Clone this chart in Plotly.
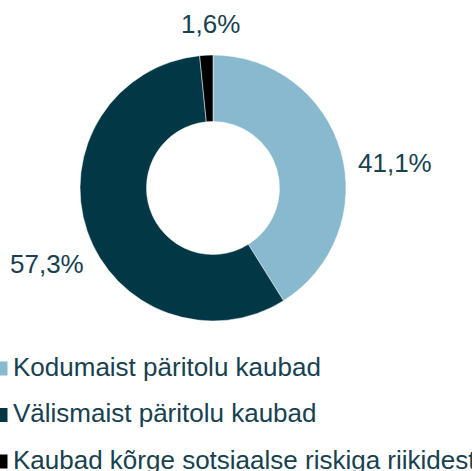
import plotly.graph_objects as go

W, H = 472, 471

labels = ["Kodumaist päritolu kaubad", "Välismaist päritolu kaubad", "Kaubad kõrge sotsiaalse riskiga riikidest"]
values = [41.1, 57.3, 1.6]
colors = ["#88b9cf", "#023846", "#000000"]

TEXT_COLOR = "#17414f"
FONT = "Liberation Sans, Arial, sans-serif"

def px(x):
    return x / W

def py(y):
    return 1 - y / H

fig = go.Figure()
fig.add_trace(go.Pie(
    labels=labels,
    values=values,
    hole=0.5,
    sort=False,
    direction="clockwise",
    rotation=0,
    marker=dict(colors=colors, line=dict(color="white", width=0.5)),
    textinfo="none",
    hoverinfo="label+percent",
    showlegend=False,
    domain=dict(x=[px(80), px(346)], y=[py(321), py(55)]),
))

# value labels outside the ring (positions in pixels)
label_pos = [(395, 163), (47, 264), (210.5, 24)]
for v, (lx, ly) in zip(values, label_pos):
    fig.add_annotation(xref="paper", yref="paper", x=px(lx), y=py(ly),
                       xanchor="center", yanchor="middle", showarrow=False,
                       text=f"{v:.1f}".replace(".", ",") + "%",
                       font=dict(family=FONT, size=26, color=TEXT_COLOR))

# manual legend
row_y = [366.5, 413, 459.5]
for lab, col, yy in zip(labels, colors, row_y):
    fig.add_shape(type="rect", xref="paper", yref="paper",
                  x0=px(-7), x1=px(7.5), y0=py(yy + 9), y1=py(yy - 5),
                  fillcolor=col, line=dict(width=0))
    fig.add_annotation(xref="paper", yref="paper", x=px(11), y=py(yy),
                       xanchor="left", yanchor="middle", showarrow=False,
                       text=lab, font=dict(family=FONT, size=26, color=TEXT_COLOR))

fig.update_layout(
    width=W, height=H,
    margin=dict(l=0, r=0, t=0, b=0),
    paper_bgcolor="white",
    plot_bgcolor="white",
)

fig.write_html("out.html", config={"displayModeBar": False},
               post_script="document.body.style.margin='0';")
